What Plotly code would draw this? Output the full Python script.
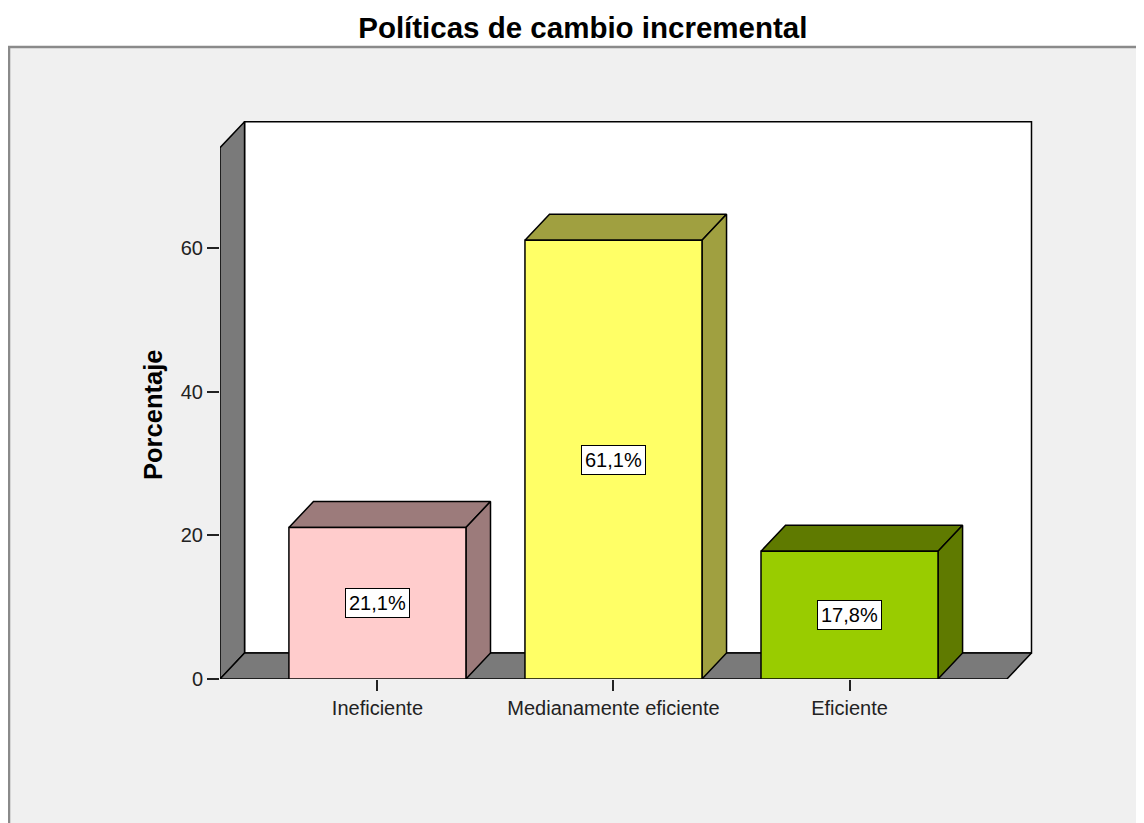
import plotly.graph_objects as go

# ---------------- data ----------------
categories = ["Ineficiente", "Medianamente eficiente", "Eficiente"]
percentages = [21.1, 61.1, 17.8]
front_colors = ["#ffcccc", "#ffff66", "#99cc00"]
side_colors = ["#9c7b7b", "#a0a040", "#5f7a00"]
y_ticks = [0, 20, 40, 60]

title_text = "Políticas de cambio incremental"
y_title = "Porcentaje"

# ---------------- style constants ----------------
FONT = "Liberation Sans, Arial, sans-serif"
BAR_HALF = 0.375        # half width of bar (category units)
DX = 0.104              # depth offset in x (category units)
DY = 3.62               # depth offset in y (percent units)
WALL_TOP = 74.0         # height of walls (percent units)
X_LEFT = -0.667
X_RIGHT = len(categories) - 1 + 0.667
WALL_GRAY = "#7a7a7a"
EDGE = dict(color="black", width=1.5)

fig = go.Figure()


def poly(xs, ys, fill):
    fig.add_trace(go.Scatter(
        x=list(xs) + [xs[0]], y=list(ys) + [ys[0]],
        mode="lines", fill="toself", fillcolor=fill,
        line=EDGE, hoverinfo="skip", showlegend=False))


# back wall
poly([X_LEFT + DX, X_RIGHT + DX, X_RIGHT + DX, X_LEFT + DX],
     [DY, DY, WALL_TOP + DY, WALL_TOP + DY], "white")
# left wall
poly([X_LEFT, X_LEFT, X_LEFT + DX, X_LEFT + DX],
     [0, WALL_TOP, WALL_TOP + DY, DY], WALL_GRAY)
# floor
poly([X_LEFT, X_LEFT + DX, X_RIGHT + DX, X_RIGHT],
     [0, DY, DY, 0], WALL_GRAY)

# bars
for i, (v, fc, sc) in enumerate(zip(percentages, front_colors, side_colors)):
    x0, x1 = i - BAR_HALF, i + BAR_HALF
    # top face
    poly([x0, x0 + DX, x1 + DX, x1], [v, v + DY, v + DY, v], sc)
    # right side face
    poly([x1, x1 + DX, x1 + DX, x1], [0, DY, v + DY, v], sc)
    # front face
    poly([x0, x1, x1, x0], [0, 0, v, v], fc)

# value labels
for i, v in enumerate(percentages):
    fig.add_annotation(
        x=i, y=v / 2, xref="x", yref="y",
        text=f"{v:.1f}".replace(".", ",") + "%",
        showarrow=False, bgcolor="white", bordercolor="black",
        borderwidth=1, borderpad=3,
        font=dict(family=FONT, size=20, color="black"))

# y-axis title
fig.add_annotation(
    x=-0.0817, y=0.464, xref="paper", yref="paper",
    text=f"<b>{y_title}</b>", textangle=-90, showarrow=False,
    xanchor="center", yanchor="middle",
    font=dict(family=FONT, size=25.5, color="black"))

# outer chart frame
fig.add_shape(type="rect", xref="paper", yref="paper",
              x0=-0.2573, x1=1.3, y0=-0.6, y1=1.1107,
              fillcolor="#f0f0f0", line=dict(color="#8a8a8a", width=2.5),
              layer="below")

fig.update_layout(
    width=1136, height=815,
    margin=dict(l=212, r=104, t=102, b=144),
    paper_bgcolor="white",
    plot_bgcolor="rgba(0,0,0,0)",
    title=dict(text=f"<b>{title_text}</b>", x=0.506, xanchor="center",
               y=0.9755, yanchor="middle", xref="container", yref="container",
               font=dict(family=FONT, size=29.5, color="black")),
    xaxis=dict(range=[X_LEFT, 2.807], showgrid=False, zeroline=False,
               showline=False, tickmode="array",
               tickvals=list(range(len(categories))), ticktext=categories,
               ticks="outside", ticklen=11, tickwidth=1.5, tickcolor="#222",
               tickfont=dict(family=FONT, size=20, color="#222"),
               fixedrange=True),
    yaxis=dict(range=[0, 79.25], showgrid=False, zeroline=False,
               showline=False, tickmode="array", tickvals=y_ticks,
               ticks="outside", ticklen=12, tickwidth=1.5, tickcolor="#222",
               tickfont=dict(family=FONT, size=20, color="#222"),
               fixedrange=True),
    showlegend=False,
)

fig.write_html("out.html")
